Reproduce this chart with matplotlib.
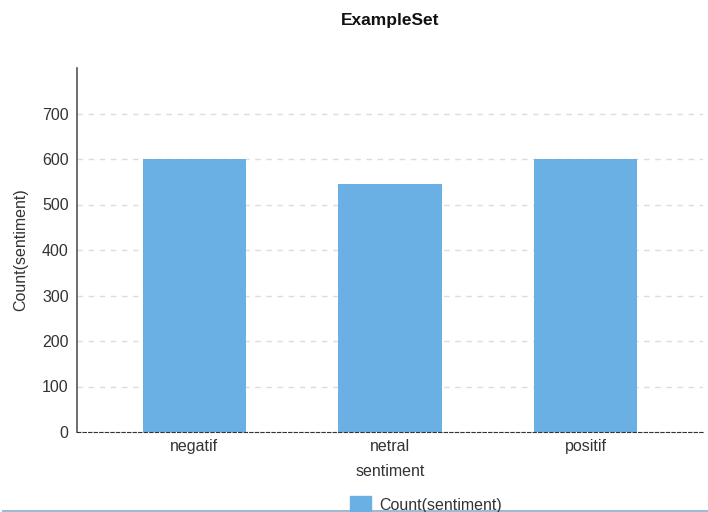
import matplotlib
matplotlib.use("Agg")
import matplotlib.pyplot as plt
from matplotlib.patches import Patch
from matplotlib.lines import Line2D

categories = ["negatif", "netral", "positif"]
counts = [600, 544, 600]
yticks = [0, 100, 200, 300, 400, 500, 600, 700]
bar_color = "#6ab0e4"

plt.rcParams['font.family'] = ['Liberation Sans', 'DejaVu Sans']

W, H = 708, 512
fig = plt.figure(figsize=(W/100, H/100), dpi=100)
ax = fig.add_axes([77/W, (H-432)/H, (703-77)/W, (432-68)/H])

x = list(range(len(categories)))
ax.bar(x, counts, width=0.53, color=bar_color, zorder=2)
ax.set_xlim(-0.6, 2.6)
ax.set_ylim(0, 800)
ax.set_yticks(yticks)
ax.set_xticks(x)
ax.set_xticklabels(categories)
ax.tick_params(axis='both', length=0, colors='#333333', labelsize=11.5)
ax.tick_params(axis='y', pad=6)
ax.tick_params(axis='x', pad=5)
ax.yaxis.grid(True, linestyle=(0, (4, 4)), color='#dcdcdc', linewidth=1, zorder=0)
for s in ['top', 'right']:
    ax.spines[s].set_visible(False)
ax.spines['left'].set_color('#555555')
ax.spines['left'].set_linewidth(1.2)
ax.spines['bottom'].set_linestyle((0, (3, 2)))
ax.spines['bottom'].set_color('#333333')
ax.spines['bottom'].set_zorder(3)
ax.set_xlabel("sentiment", fontsize=11.5, color='#333333', labelpad=7)
ax.set_ylabel("Count(sentiment)", fontsize=11.5, color='#333333', labelpad=10)

fig.text(390/W, 1 - 21/H, "ExampleSet", ha='center', va='center', fontsize=12.5, fontweight='bold', color='#111111')

fig.legend([Patch(color=bar_color)], ["Count(sentiment)"], loc='upper left',
           bbox_to_anchor=(336/W, 1 - 482/H), frameon=False, fontsize=11.5,
           handlelength=1.3, handleheight=1.3, handletextpad=0.5, labelcolor='#333333')

fig.add_artist(Line2D([3/W, 1], [1 - 510.5/H, 1 - 510.5/H], transform=fig.transFigure,
                      color='#9fbad3', linewidth=1.5, zorder=0))

fig.savefig("out.png", dpi=100)
